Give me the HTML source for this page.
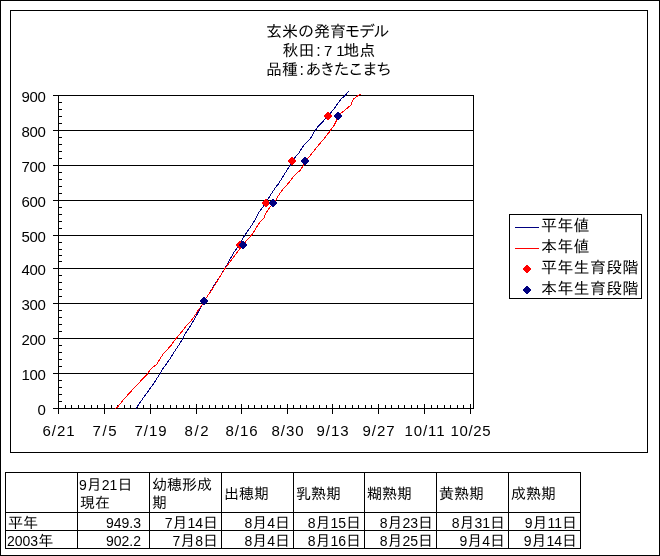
<!DOCTYPE html>
<html lang="ja"><head><meta charset="utf-8"><title>玄米の発育モデル</title>
<style>
html,body{margin:0;padding:0;background:#fff}
#wrap{position:relative;width:660px;height:556px;overflow:hidden;background:#fff}
svg{position:absolute;left:0;top:0}
svg line,svg rect,svg polyline,svg polygon,svg path{shape-rendering:crispEdges}
text.j,tspan.j{font-family:"Liberation Sans","IPAGothic","Noto Sans CJK JP",sans-serif;font-size:16px;fill:#000}
text.n,tspan.n{font-family:"Liberation Sans",sans-serif;font-size:15px;fill:#000}
table{position:absolute;left:5px;top:472px;border-collapse:collapse;table-layout:fixed;width:576px;
font-family:"Liberation Sans","IPAGothic","Noto Sans CJK JP",sans-serif;font-size:15px;line-height:18px;color:#000}
th,td{border:1px solid #000;padding:0 3px 0 2px;box-sizing:border-box;font-weight:normal;overflow:hidden;white-space:nowrap}
th{text-align:left;height:40px;vertical-align:middle;padding-top:2px}
td{text-align:right;height:17px;line-height:15px;padding-top:2px}
td.v{padding-right:8px}
td.l{text-align:left}
.d{font-size:14px;line-height:0}
th .d:first-child,td.l .d:first-child{margin-left:-1px}
</style></head><body>
<div id="wrap">
<svg width="660" height="556" viewBox="0 0 660 556">
<rect x="0.5" y="0.5" width="659" height="555" fill="#fff" stroke="#000"/>
<rect x="10.5" y="10.5" width="637" height="442" fill="#fff" stroke="#000"/>
<line x1="53" y1="408.5" x2="474" y2="408.5" stroke="#000"/>
<line x1="53" y1="373.5" x2="474" y2="373.5" stroke="#000"/>
<line x1="53" y1="338.5" x2="474" y2="338.5" stroke="#000"/>
<line x1="53" y1="303.5" x2="474" y2="303.5" stroke="#000"/>
<line x1="53" y1="268.5" x2="474" y2="268.5" stroke="#000"/>
<line x1="53" y1="235.5" x2="474" y2="235.5" stroke="#000"/>
<line x1="53" y1="200.5" x2="474" y2="200.5" stroke="#000"/>
<line x1="53" y1="165.5" x2="474" y2="165.5" stroke="#000"/>
<line x1="53" y1="130.5" x2="474" y2="130.5" stroke="#000"/>
<line x1="53" y1="95.5" x2="474" y2="95.5" stroke="#000"/>
<line x1="58.5" y1="95" x2="58.5" y2="409" stroke="#000"/>
<line x1="473.5" y1="95" x2="473.5" y2="409" stroke="#000"/>
<line x1="58" y1="401.5" x2="62" y2="401.5" stroke="#000"/>
<line x1="58" y1="394.5" x2="62" y2="394.5" stroke="#000"/>
<line x1="58" y1="387.5" x2="62" y2="387.5" stroke="#000"/>
<line x1="58" y1="380.5" x2="62" y2="380.5" stroke="#000"/>
<line x1="58" y1="366.5" x2="62" y2="366.5" stroke="#000"/>
<line x1="58" y1="359.5" x2="62" y2="359.5" stroke="#000"/>
<line x1="58" y1="352.5" x2="62" y2="352.5" stroke="#000"/>
<line x1="58" y1="345.5" x2="62" y2="345.5" stroke="#000"/>
<line x1="58" y1="331.5" x2="62" y2="331.5" stroke="#000"/>
<line x1="58" y1="324.5" x2="62" y2="324.5" stroke="#000"/>
<line x1="58" y1="317.5" x2="62" y2="317.5" stroke="#000"/>
<line x1="58" y1="310.5" x2="62" y2="310.5" stroke="#000"/>
<line x1="58" y1="296.5" x2="62" y2="296.5" stroke="#000"/>
<line x1="58" y1="289.5" x2="62" y2="289.5" stroke="#000"/>
<line x1="58" y1="282.5" x2="62" y2="282.5" stroke="#000"/>
<line x1="58" y1="275.5" x2="62" y2="275.5" stroke="#000"/>
<line x1="58" y1="261.5" x2="62" y2="261.5" stroke="#000"/>
<line x1="58" y1="255.5" x2="62" y2="255.5" stroke="#000"/>
<line x1="58" y1="249.5" x2="62" y2="249.5" stroke="#000"/>
<line x1="58" y1="242.5" x2="62" y2="242.5" stroke="#000"/>
<line x1="58" y1="228.5" x2="62" y2="228.5" stroke="#000"/>
<line x1="58" y1="221.5" x2="62" y2="221.5" stroke="#000"/>
<line x1="58" y1="214.5" x2="62" y2="214.5" stroke="#000"/>
<line x1="58" y1="207.5" x2="62" y2="207.5" stroke="#000"/>
<line x1="58" y1="193.5" x2="62" y2="193.5" stroke="#000"/>
<line x1="58" y1="186.5" x2="62" y2="186.5" stroke="#000"/>
<line x1="58" y1="179.5" x2="62" y2="179.5" stroke="#000"/>
<line x1="58" y1="172.5" x2="62" y2="172.5" stroke="#000"/>
<line x1="58" y1="158.5" x2="62" y2="158.5" stroke="#000"/>
<line x1="58" y1="151.5" x2="62" y2="151.5" stroke="#000"/>
<line x1="58" y1="144.5" x2="62" y2="144.5" stroke="#000"/>
<line x1="58" y1="137.5" x2="62" y2="137.5" stroke="#000"/>
<line x1="58" y1="123.5" x2="62" y2="123.5" stroke="#000"/>
<line x1="58" y1="116.5" x2="62" y2="116.5" stroke="#000"/>
<line x1="58" y1="109.5" x2="62" y2="109.5" stroke="#000"/>
<line x1="58" y1="102.5" x2="62" y2="102.5" stroke="#000"/>
<line x1="58.5" y1="404" x2="58.5" y2="414" stroke="#000"/>
<line x1="65.5" y1="405" x2="65.5" y2="409" stroke="#000"/>
<line x1="71.5" y1="405" x2="71.5" y2="409" stroke="#000"/>
<line x1="78.5" y1="405" x2="78.5" y2="409" stroke="#000"/>
<line x1="84.5" y1="405" x2="84.5" y2="409" stroke="#000"/>
<line x1="91.5" y1="405" x2="91.5" y2="409" stroke="#000"/>
<line x1="97.5" y1="405" x2="97.5" y2="409" stroke="#000"/>
<line x1="104.5" y1="404" x2="104.5" y2="414" stroke="#000"/>
<line x1="111.5" y1="405" x2="111.5" y2="409" stroke="#000"/>
<line x1="117.5" y1="405" x2="117.5" y2="409" stroke="#000"/>
<line x1="124.5" y1="405" x2="124.5" y2="409" stroke="#000"/>
<line x1="130.5" y1="405" x2="130.5" y2="409" stroke="#000"/>
<line x1="137.5" y1="405" x2="137.5" y2="409" stroke="#000"/>
<line x1="143.5" y1="405" x2="143.5" y2="409" stroke="#000"/>
<line x1="150.5" y1="404" x2="150.5" y2="414" stroke="#000"/>
<line x1="157.5" y1="405" x2="157.5" y2="409" stroke="#000"/>
<line x1="163.5" y1="405" x2="163.5" y2="409" stroke="#000"/>
<line x1="170.5" y1="405" x2="170.5" y2="409" stroke="#000"/>
<line x1="176.5" y1="405" x2="176.5" y2="409" stroke="#000"/>
<line x1="183.5" y1="405" x2="183.5" y2="409" stroke="#000"/>
<line x1="189.5" y1="405" x2="189.5" y2="409" stroke="#000"/>
<line x1="196.5" y1="404" x2="196.5" y2="414" stroke="#000"/>
<line x1="202.5" y1="405" x2="202.5" y2="409" stroke="#000"/>
<line x1="209.5" y1="405" x2="209.5" y2="409" stroke="#000"/>
<line x1="215.5" y1="405" x2="215.5" y2="409" stroke="#000"/>
<line x1="222.5" y1="405" x2="222.5" y2="409" stroke="#000"/>
<line x1="228.5" y1="405" x2="228.5" y2="409" stroke="#000"/>
<line x1="235.5" y1="405" x2="235.5" y2="409" stroke="#000"/>
<line x1="241.5" y1="404" x2="241.5" y2="414" stroke="#000"/>
<line x1="248.5" y1="405" x2="248.5" y2="409" stroke="#000"/>
<line x1="254.5" y1="405" x2="254.5" y2="409" stroke="#000"/>
<line x1="261.5" y1="405" x2="261.5" y2="409" stroke="#000"/>
<line x1="267.5" y1="405" x2="267.5" y2="409" stroke="#000"/>
<line x1="274.5" y1="405" x2="274.5" y2="409" stroke="#000"/>
<line x1="280.5" y1="405" x2="280.5" y2="409" stroke="#000"/>
<line x1="287.5" y1="404" x2="287.5" y2="414" stroke="#000"/>
<line x1="293.5" y1="405" x2="293.5" y2="409" stroke="#000"/>
<line x1="300.5" y1="405" x2="300.5" y2="409" stroke="#000"/>
<line x1="306.5" y1="405" x2="306.5" y2="409" stroke="#000"/>
<line x1="313.5" y1="405" x2="313.5" y2="409" stroke="#000"/>
<line x1="319.5" y1="405" x2="319.5" y2="409" stroke="#000"/>
<line x1="326.5" y1="405" x2="326.5" y2="409" stroke="#000"/>
<line x1="332.5" y1="404" x2="332.5" y2="414" stroke="#000"/>
<line x1="339.5" y1="405" x2="339.5" y2="409" stroke="#000"/>
<line x1="345.5" y1="405" x2="345.5" y2="409" stroke="#000"/>
<line x1="352.5" y1="405" x2="352.5" y2="409" stroke="#000"/>
<line x1="358.5" y1="405" x2="358.5" y2="409" stroke="#000"/>
<line x1="365.5" y1="405" x2="365.5" y2="409" stroke="#000"/>
<line x1="371.5" y1="405" x2="371.5" y2="409" stroke="#000"/>
<line x1="378.5" y1="404" x2="378.5" y2="414" stroke="#000"/>
<line x1="385.5" y1="405" x2="385.5" y2="409" stroke="#000"/>
<line x1="391.5" y1="405" x2="391.5" y2="409" stroke="#000"/>
<line x1="398.5" y1="405" x2="398.5" y2="409" stroke="#000"/>
<line x1="404.5" y1="405" x2="404.5" y2="409" stroke="#000"/>
<line x1="411.5" y1="405" x2="411.5" y2="409" stroke="#000"/>
<line x1="417.5" y1="405" x2="417.5" y2="409" stroke="#000"/>
<line x1="424.5" y1="404" x2="424.5" y2="414" stroke="#000"/>
<line x1="431.5" y1="405" x2="431.5" y2="409" stroke="#000"/>
<line x1="437.5" y1="405" x2="437.5" y2="409" stroke="#000"/>
<line x1="444.5" y1="405" x2="444.5" y2="409" stroke="#000"/>
<line x1="450.5" y1="405" x2="450.5" y2="409" stroke="#000"/>
<line x1="457.5" y1="405" x2="457.5" y2="409" stroke="#000"/>
<line x1="463.5" y1="405" x2="463.5" y2="409" stroke="#000"/>
<line x1="470.5" y1="404" x2="470.5" y2="414" stroke="#000"/>
<polyline fill="none" stroke="#000080" stroke-width="1" points="136.0,408.5 140.4,401.9 146.7,393.2 153.3,384.0 159.6,374.4 163.3,368.0 169.6,359.5 173.3,353.2 179.2,344.5 182.9,338.3 186.7,331.2 190.4,326.0 192.7,322.0 196.7,315.0 201.2,306.7 204.0,301.0 208.8,294.2 213.3,286.7 225.0,268.5 229.2,260.8 233.3,253.3 237.5,247.5 240.0,245.0 242.1,239.9 245.0,234.9 250.0,227.8 251.2,226.0 253.8,222.0 258.3,213.3 266.0,203.0 270.0,195.8 275.0,188.3 278.3,184.0 280.8,180.0 290.0,165.5 292.0,161.0 298.8,153.0 304.2,144.7 310.8,138.0 314.2,132.0 317.9,126.8 328.0,116.0 334.2,108.5 341.2,98.9 345.8,94.9 348.5,91.2"/>
<polyline fill="none" stroke="#ff0000" stroke-width="1" points="115.4,408.5 117.5,407.3 123.3,399.8 137.1,384.8 147.9,373.4 150.0,369.8 152.9,367.3 157.1,364.0 160.0,358.7 163.8,353.2 170.4,346.2 176.2,338.3 183.3,329.9 186.2,326.0 190.0,322.0 193.3,317.9 197.9,310.8 202.5,304.2 204.0,301.0 208.8,294.2 213.3,287.5 217.9,280.0 225.0,268.5 233.3,257.5 239.6,249.2 243.0,245.0 245.4,242.0 251.7,234.9 255.8,228.7 257.3,226.0 260.0,222.0 264.2,217.5 265.8,213.3 269.2,208.3 273.0,203.0 276.2,199.6 278.3,195.8 281.7,190.8 288.3,183.3 295.0,174.7 300.0,170.5 303.3,165.5 305.0,161.0 308.3,158.0 314.2,150.5 317.5,146.3 324.6,138.0 329.3,132.0 334.2,125.2 336.7,120.2 338.0,116.0 341.2,113.1 345.8,109.3 350.8,105.2 353.3,99.3 357.5,96.0 360.6,94.3"/>
<path fill="#ff0000" d="M203,297h2v8h-2z M202,298h4v6h-4z M201,299h6v4h-6z M200,300h8v2h-8z"/>
<path fill="#ff0000" d="M239,241h2v8h-2z M238,242h4v6h-4z M237,243h6v4h-6z M236,244h8v2h-8z"/>
<path fill="#ff0000" d="M265,199h2v8h-2z M264,200h4v6h-4z M263,201h6v4h-6z M262,202h8v2h-8z"/>
<path fill="#ff0000" d="M291,157h2v8h-2z M290,158h4v6h-4z M289,159h6v4h-6z M288,160h8v2h-8z"/>
<path fill="#ff0000" d="M327,112h2v8h-2z M326,113h4v6h-4z M325,114h6v4h-6z M324,115h8v2h-8z"/>
<path fill="#000080" d="M203,297h2v8h-2z M202,298h4v6h-4z M201,299h6v4h-6z M200,300h8v2h-8z"/>
<path fill="#000080" d="M242,241h2v8h-2z M241,242h4v6h-4z M240,243h6v4h-6z M239,244h8v2h-8z"/>
<path fill="#000080" d="M272,199h2v8h-2z M271,200h4v6h-4z M270,201h6v4h-6z M269,202h8v2h-8z"/>
<path fill="#000080" d="M304,157h2v8h-2z M303,158h4v6h-4z M302,159h6v4h-6z M301,160h8v2h-8z"/>
<path fill="#000080" d="M337,112h2v8h-2z M336,113h4v6h-4z M335,114h6v4h-6z M334,115h8v2h-8z"/>

<rect x="509.5" y="214.5" width="132" height="84" fill="#fff" stroke="#000"/>
<line x1="515" y1="227.5" x2="539" y2="227.5" stroke="#000080"/>
<line x1="515" y1="248.5" x2="539" y2="248.5" stroke="#ff0000"/>
<path fill="#ff0000" d="M526,265h2v8h-2z M525,266h4v6h-4z M524,267h6v4h-6z M523,268h8v2h-8z"/>
<path fill="#000080" d="M526,286h2v8h-2z M525,287h4v6h-4z M524,288h6v4h-6z M523,289h8v2h-8z"/>
<text class="j" x="541" y="231.2" letter-spacing="0.3">平年値</text>
<text class="j" x="541" y="252.2" letter-spacing="0.3">本年値</text>
<text class="j" x="541" y="273.2" letter-spacing="0.3">平年生育段階</text>
<text class="j" x="541" y="294.2" letter-spacing="0.3">本年生育段階</text>
<text class="n" x="45.6" y="414.5" text-anchor="end" letter-spacing="-0.34">0</text>
<text class="n" x="45.6" y="379.5" text-anchor="end" letter-spacing="-0.34">100</text>
<text class="n" x="45.6" y="344.5" text-anchor="end" letter-spacing="-0.34">200</text>
<text class="n" x="45.6" y="309.5" text-anchor="end" letter-spacing="-0.34">300</text>
<text class="n" x="45.6" y="274.5" text-anchor="end" letter-spacing="-0.34">400</text>
<text class="n" x="45.6" y="241.5" text-anchor="end" letter-spacing="-0.34">500</text>
<text class="n" x="45.6" y="206.5" text-anchor="end" letter-spacing="-0.34">600</text>
<text class="n" x="45.6" y="171.5" text-anchor="end" letter-spacing="-0.34">700</text>
<text class="n" x="45.6" y="136.5" text-anchor="end" letter-spacing="-0.34">800</text>
<text class="n" x="45.6" y="101.5" text-anchor="end" letter-spacing="-0.34">900</text>
<text class="n" x="58.5" y="436" text-anchor="middle" textLength="32" lengthAdjust="spacing">6/21</text>
<text class="n" x="104.5" y="436" text-anchor="middle" textLength="24" lengthAdjust="spacing">7/5</text>
<text class="n" x="150.5" y="436" text-anchor="middle" textLength="32" lengthAdjust="spacing">7/19</text>
<text class="n" x="196.5" y="436" text-anchor="middle" textLength="24" lengthAdjust="spacing">8/2</text>
<text class="n" x="241.5" y="436" text-anchor="middle" textLength="32" lengthAdjust="spacing">8/16</text>
<text class="n" x="287.5" y="436" text-anchor="middle" textLength="32" lengthAdjust="spacing">8/30</text>
<text class="n" x="332.5" y="436" text-anchor="middle" textLength="32" lengthAdjust="spacing">9/13</text>
<text class="n" x="378.5" y="436" text-anchor="middle" textLength="32" lengthAdjust="spacing">9/27</text>
<text class="n" x="424.5" y="436" text-anchor="middle" textLength="40" lengthAdjust="spacing">10/11</text>
<text class="n" x="470.5" y="436" text-anchor="middle" textLength="40" lengthAdjust="spacing">10/25</text>
<text class="j" y="37"><tspan x="266">玄米の発育</tspan><tspan x="344.5" letter-spacing="-1.5">モデル</tspan></text>
<text class="j" y="55.5"><tspan x="282.5">秋田</tspan><tspan x="316.3">:</tspan><tspan class="n" x="324" letter-spacing="4">71</tspan><tspan x="343.3">地点</tspan></text>
<text class="j" y="74.5"><tspan x="266">品種</tspan><tspan x="299.6">:</tspan><tspan x="305.5" letter-spacing="-1.9">あきたこまち</tspan></text>
</svg>
<table><colgroup><col style="width:72px"><col style="width:72px"><col style="width:72px"><col style="width:72px"><col style="width:71px"><col style="width:72px"><col style="width:72px"><col style="width:72px"></colgroup><tr class="h"><th></th><th><span class="d">9</span>月<span class="d">21</span>日<br>現在</th><th>幼穂形成<br>期</th><th>出穂期</th><th>乳熟期</th><th>糊熟期</th><th>黄熟期</th><th>成熟期</th></tr>
<tr><td class="l">平年</td><td class="v"><span class="d">949.3</span></td><td><span class="d">7</span>月<span class="d">14</span>日</td><td><span class="d">8</span>月<span class="d">4</span>日</td><td><span class="d">8</span>月<span class="d">15</span>日</td><td><span class="d">8</span>月<span class="d">23</span>日</td><td><span class="d">8</span>月<span class="d">31</span>日</td><td><span class="d">9</span>月<span class="d">11</span>日</td></tr>
<tr><td class="l"><span class="d">2003</span>年</td><td class="v"><span class="d">902.2</span></td><td><span class="d">7</span>月<span class="d">8</span>日</td><td><span class="d">8</span>月<span class="d">4</span>日</td><td><span class="d">8</span>月<span class="d">16</span>日</td><td><span class="d">8</span>月<span class="d">25</span>日</td><td><span class="d">9</span>月<span class="d">4</span>日</td><td><span class="d">9</span>月<span class="d">14</span>日</td></tr>
</table>
</div>
</body></html>
